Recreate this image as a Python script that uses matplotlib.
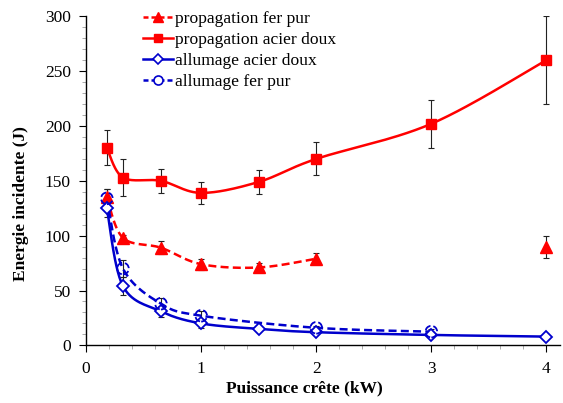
import numpy as np
import matplotlib
matplotlib.use("Agg")
import matplotlib.pyplot as plt
from matplotlib.lines import Line2D

plt.rcParams['font.family'] = ['Liberation Serif', 'DejaVu Serif']

# ---- data ----
x_pfp = [0.18, 0.32, 0.65, 1.0, 1.5, 2.0]
y_pfp = [135, 98, 89, 74, 71, 79]
e_pfp = [8, 3, 6, 5, 4, 5]
x_pfp_iso = [4.0]
y_pfp_iso = [90]
e_pfp_iso = [10]

x_pad = [0.18, 0.32, 0.65, 1.0, 1.5, 2.0, 3.0, 4.0]
y_pad = [180, 153, 150, 139, 149, 170, 202, 260]
e_pad = [16, 17, 11, 10, 11, 15, 22, 40]

x_aad = [0.18, 0.32, 0.65, 1.0, 1.5, 2.0, 3.0, 4.0]
y_aad = [125, 54, 31, 20, 15, 12, 9.5, 8]
e_aad = [8, 8, 5, 4, 1, 1, 1, 0]

x_afp = [0.18, 0.32, 0.65, 1.0, 2.0, 3.0]
y_afp = [134, 70, 38, 27, 16, 12.5]
e_afp = [9, 8, 5, 4, 2, 2]

labels = ["propagation fer pur", "propagation acier doux",
          "allumage acier doux", "allumage fer pur"]
xticks = [0, 1, 2, 3, 4]
yticks = [0, 50, 100, 150, 200, 250, 300]

RED = '#FF0000'
BLUE = '#0000CC'

# smoothing in screen-proportional space (Catmull-Rom, like Excel smoothed lines)
SX, SY = 114.8, 1.097
def smooth(xs, ys, n=30):
    P = np.column_stack([np.asarray(xs, float) * SX, np.asarray(ys, float) * SY])
    pts = [P[0]]
    for i in range(len(P) - 1):
        p0 = P[i - 1] if i > 0 else P[i]
        p1, p2 = P[i], P[i + 1]
        p3 = P[i + 2] if i + 2 < len(P) else P[i + 1]
        c1 = p1 + (p2 - p0) / 6.0
        c2 = p2 - (p3 - p1) / 6.0
        t = np.linspace(0, 1, n)[1:, None]
        seg = ((1 - t) ** 3) * p1 + 3 * ((1 - t) ** 2) * t * c1 + 3 * (1 - t) * t ** 2 * c2 + t ** 3 * p2
        pts.extend(seg)
    pts = np.array(pts)
    return pts[:, 0] / SX, pts[:, 1] / SY

fig = plt.figure(figsize=(5.63, 4.03), dpi=100)
ax = fig.add_axes([0.153, 0.143, 0.842, 0.8166])

ekw = dict(fmt='none', ecolor='#222222', elinewidth=0.8, capsize=2.2, capthick=0.8, zorder=2)
ax.errorbar(x_pad, y_pad, yerr=e_pad, **ekw)
ax.errorbar(x_pfp, y_pfp, yerr=e_pfp, **ekw)
ax.errorbar(x_pfp_iso, y_pfp_iso, yerr=e_pfp_iso, **ekw)
ax.errorbar(x_aad, y_aad, yerr=e_aad, **ekw)
ax.errorbar(x_afp, y_afp, yerr=e_afp, **ekw)

lw = 1.8
sx, sy = smooth(x_pfp, y_pfp)
ax.plot(sx, sy, color=RED, lw=lw, ls=(0, (3.2, 1.7)), zorder=3)
ax.plot(x_pfp, y_pfp, ls='none', marker='^', ms=8, color=RED, zorder=4)
ax.plot(x_pfp_iso, y_pfp_iso, ls='none', marker='^', ms=8, color=RED, zorder=4)

sx, sy = smooth(x_pad, y_pad)
ax.plot(sx, sy, color=RED, lw=lw, zorder=3)
ax.plot(x_pad, y_pad, ls='none', marker='s', ms=7, color=RED, zorder=4)

sx, sy = smooth(x_aad, y_aad)
ax.plot(sx, sy, color=BLUE, lw=lw, zorder=3)
ax.plot(x_aad, y_aad, ls='none', marker='D', ms=6.3, mfc='white', mec=BLUE, mew=1.3, zorder=5)

sx, sy = smooth(x_afp, y_afp)
ax.plot(sx, sy, color=BLUE, lw=lw, ls=(0, (3.2, 1.7)), zorder=3)
ax.scatter(x_afp, y_afp, s=70, facecolors='none', edgecolors=BLUE, linewidths=1.3,
           linestyles='--', zorder=5)

ax.set_xlim(0, 4.12)
ax.set_ylim(0, 300)
ax.set_xticks(xticks)
ax.set_yticks(yticks)
ax.set_xticks(np.arange(0, 4.1, 0.2), minor=True)
ax.set_yticks(np.arange(0, 301, 10), minor=True)
ax.tick_params(which='major', direction='out', length=5, width=0.8, labelsize=12.5, pad=6)
ax.tick_params(which='minor', direction='out', length=3, width=0.5, color='#888888')
for s in ['top', 'right']:
    ax.spines[s].set_visible(False)
for s in ['left', 'bottom']:
    ax.spines[s].set_linewidth(1.0)

ax.set_xlabel("Puissance crête (kW)", fontsize=12.5, fontweight='bold')
ax.xaxis.set_label_coords(0.46, -0.107)
ax.set_ylabel("Energie incidente (J)", fontsize=12.5, fontweight='bold')
ax.yaxis.set_label_coords(-0.121, 0.432)

handles = [
    Line2D([], [], color=RED, lw=lw, ls=(0, (2, 1.2)), marker='^', ms=6.5),
    Line2D([], [], color=RED, lw=lw, marker='s', ms=6),
    Line2D([], [], color=BLUE, lw=lw, marker='D', ms=5.3, mfc='white', mec=BLUE, mew=1.2),
    Line2D([], [], color=BLUE, lw=lw, ls=(0, (2, 1.2)), marker='o', ms=6.5, mfc='white', mec=BLUE, mew=1.2),
]
fig.legend(handles, labels, loc='upper left', bbox_to_anchor=(0.254, 0.973),
           frameon=False, fontsize=12.6, handlelength=1.7, handletextpad=0.12,
           labelspacing=0.27, borderpad=0, borderaxespad=0)

fig.savefig("out.png", dpi=100)
